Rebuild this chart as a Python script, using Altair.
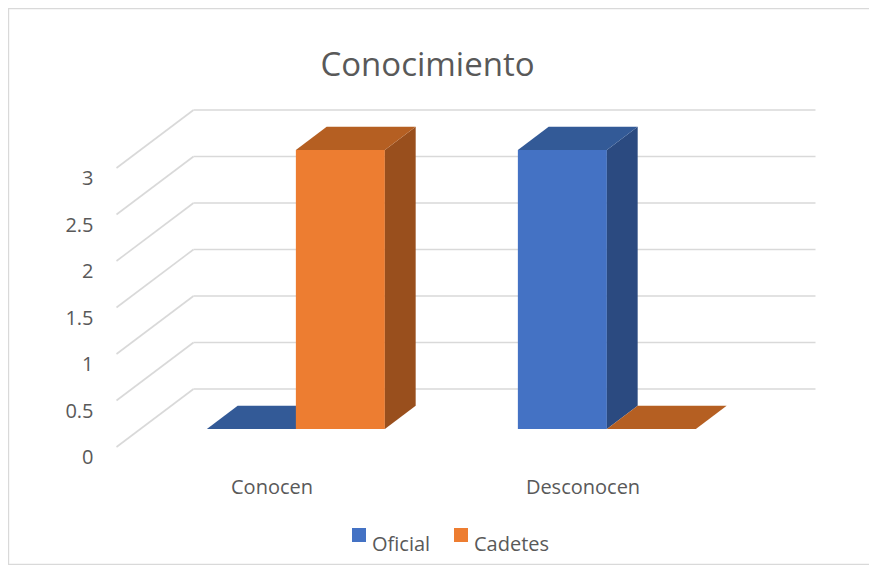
import altair as alt
import pandas as pd

# ---------------- data ----------------
categorias = ["Conocen", "Desconocen"]
series = ["Oficial", "Cadetes"]
oficial = [0, 3]
cadetes = [3, 0]
ticks = [0, 0.5, 1, 1.5, 2, 2.5, 3]
tick_labels = ["0", "0.5", "1", "1.5", "2", "2.5", "3"]
titulo = "Conocimiento"

front_colors = ["#4472C4", "#ED7D31"]
top_colors = ["#335A97", "#B55F22"]
side_colors = ["#2B4A80", "#994F1D"]
grid_color = "#D9D9D9"
text_color = "#595959"
FONT = "Open Sans"

# ---------------- layout / projection ----------------
W_PLOT, H_PLOT = 861, 557
PX_U, PX_V = 311.0, 93.0          # pixels per category unit / value unit
ORIGIN_X, ORIGIN_Y = 264.0, 439.0  # where (u=0, v=0, depth=0) falls
DX, DY = 77.0 / PX_U, 58.0 / PX_V  # oblique shift for full depth
D_FRONT, D_BACK = 0.31, 0.71
BAR_W = 89.0 / PX_U


def px(u, d):
    return u + d * DX


def py(v, d):
    return v + d * DY


xs = alt.Scale(domain=[-ORIGIN_X / PX_U, (W_PLOT - ORIGIN_X) / PX_U], nice=False, zero=False)
ys = alt.Scale(domain=[(ORIGIN_Y - H_PLOT) / PX_V, ORIGIN_Y / PX_V], nice=False, zero=False)

values = {"Oficial": oficial, "Cadetes": cadetes}

# ---------------- chart frame (left, top, bottom edges) ----------------
frame_df = pd.DataFrame({"k": [0]})
frame = [
    alt.Chart(frame_df).mark_rule(color=grid_color, strokeWidth=1.2).encode(
        x=alt.value(0.6), y=alt.value(0), y2=alt.value(H_PLOT)),
    alt.Chart(frame_df).mark_rule(color=grid_color, strokeWidth=1.2).encode(
        x=alt.value(0), x2=alt.value(W_PLOT), y=alt.value(0.6)),
    alt.Chart(frame_df).mark_rule(color=grid_color, strokeWidth=1.2).encode(
        x=alt.value(0), x2=alt.value(W_PLOT), y=alt.value(H_PLOT - 0.6)),
]

# ---------------- gridlines (back wall + side wall) ----------------
grid_rows = []
u0, u1 = -0.5, len(categorias) - 0.5
for t in ticks:
    grid_rows.append({"x": px(u0, 1), "x2": px(u1, 1), "y": py(t, 1), "y2": py(t, 1)})
    grid_rows.append({"x": px(u0, 0), "x2": px(u0, 1), "y": py(t, 0), "y2": py(t, 1)})
grid = alt.Chart(pd.DataFrame(grid_rows)).mark_rule(color=grid_color, strokeWidth=1.6).encode(
    x=alt.X("x:Q", scale=xs, axis=None),
    x2="x2:Q",
    y=alt.Y("y:Q", scale=ys, axis=None),
    y2="y2:Q",
)

layers = [grid] + frame

# ---------------- 3D bars ----------------
for ci, cat in enumerate(categorias):
    for si, s in enumerate(series):
        val = values[s][ci]
        ul = ci + (si - 1) * BAR_W
        ur = ci + si * BAR_W
        if val > 0:
            front = pd.DataFrame([{
                "x": px(ul, D_FRONT), "x2": px(ur, D_FRONT),
                "y": py(0, D_FRONT), "y2": py(val, D_FRONT),
                "serie": s, "categoria": cat, "valor": val,
            }])
            layers.append(alt.Chart(front).mark_rect().encode(
                x=alt.X("x:Q", scale=xs, axis=None),
                x2="x2:Q",
                y=alt.Y("y:Q", scale=ys, axis=None),
                y2="y2:Q",
                color=alt.Color("serie:N", scale=alt.Scale(domain=series, range=front_colors),
                                title=None,
                                legend=alt.Legend(orient="none", legendX=341, legendY=517,
                                                  direction="horizontal", symbolType="square",
                                                  symbolSize=196, symbolStrokeWidth=0,
                                                  labelFont=FONT, labelFontSize=20,
                                                  labelBaseline="top",
                                                  labelColor=text_color, labelOffset=3,
                                                  columnPadding=20)),
            ))
            side = pd.DataFrame([
                {"x": px(ur, D_FRONT), "y": py(val, D_FRONT), "y2": py(0, D_FRONT)},
                {"x": px(ur, D_BACK), "y": py(val, D_BACK), "y2": py(0, D_BACK)},
            ])
            layers.append(alt.Chart(side).mark_area(color=side_colors[si], interpolate="linear").encode(
                x=alt.X("x:Q", scale=xs, axis=None),
                y=alt.Y("y:Q", scale=ys, axis=None),
                y2="y2:Q",
            ))
        top = pd.DataFrame([
            {"y": py(val, D_FRONT), "x": px(ul, D_FRONT), "x2": px(ur, D_FRONT)},
            {"y": py(val, D_BACK), "x": px(ul, D_BACK), "x2": px(ur, D_BACK)},
        ])
        layers.append(alt.Chart(top).mark_area(color=top_colors[si], orient="horizontal",
                                               interpolate="linear").encode(
            y=alt.Y("y:Q", scale=ys, axis=None),
            x=alt.X("x:Q", scale=xs, axis=None),
            x2="x2:Q",
        ))

# ---------------- text ----------------
ylab = pd.DataFrame({"x": [px(u0, 0)] * len(ticks), "y": ticks, "label": tick_labels})
layers.append(alt.Chart(ylab).mark_text(align="right", baseline="alphabetic", dx=-23, dy=17,
                                        font=FONT, fontSize=20, color=text_color).encode(
    x=alt.X("x:Q", scale=xs, axis=None),
    y=alt.Y("y:Q", scale=ys, axis=None),
    text="label:N",
))

xlab = pd.DataFrame({"x": [float(i) for i in range(len(categorias))], "y": [0.0] * len(categorias),
                     "label": categorias})
layers.append(alt.Chart(xlab).mark_text(align="center", baseline="alphabetic", dy=47,
                                        font=FONT, fontSize=20, color=text_color).encode(
    x=alt.X("x:Q", scale=xs, axis=None),
    y=alt.Y("y:Q", scale=ys, axis=None),
    text="label:N",
))

tdf = pd.DataFrame({"label": [titulo]})
layers.append(alt.Chart(tdf).mark_text(align="center", baseline="alphabetic",
                                       font=FONT, fontSize=33, color=text_color).encode(
    x=alt.value(419.5),
    y=alt.value(68),
    text="label:N",
))

chart = alt.layer(*layers).properties(
    width=W_PLOT, height=H_PLOT,
    autosize=alt.AutoSizeParams(type="none"),
    padding=0,
    background="white",
).configure_view(stroke=None, strokeWidth=0)

chart.save("out.html", embed_options={"renderer": "svg", "actions": False})
